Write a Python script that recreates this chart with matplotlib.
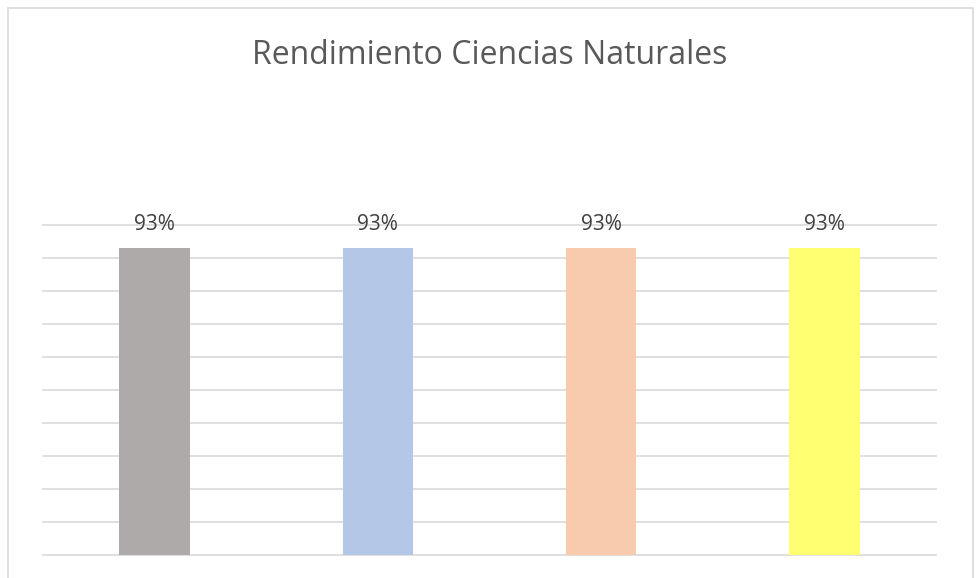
import matplotlib
matplotlib.use("Agg")
import matplotlib.pyplot as plt
from matplotlib.patches import Rectangle
import numpy as np

# Data
categories = ["Grupo 1", "Grupo 2", "Grupo 3", "Grupo 4"]
values = [0.93, 0.93, 0.93, 0.93]
colors = ["#AEAAAA", "#B4C7E7", "#F8CBAD", "#FFFF71"]
title = "Rendimiento Ciencias Naturales"

plt.rcParams["font.family"] = ["Open Sans", "DejaVu Sans"]

W, H = 980, 578
fig = plt.figure(figsize=(W / 100, H / 100), dpi=100)

# chart-area border (bottom edge falls outside the picture)
fig.patches.append(Rectangle((8 / W, -0.1), (973 - 8) / W, (578 - 8) / H + 0.1,
                             transform=fig.transFigure, fill=False,
                             edgecolor="#D9D9D9", linewidth=1.2))

ax = fig.add_axes([43 / W, (H - 555) / H, (936 - 43) / W, (555 - 225) / H])
x = np.arange(len(categories))
bars = ax.bar(x, values, width=0.315, color=colors, zorder=3)

ax.set_xlim(-0.5, len(categories) - 0.5)
ax.set_ylim(0, 1.0)
ax.set_yticks(np.arange(0, 1.01, 0.1))
ax.yaxis.grid(True, color="#D9D9D9", linewidth=1.2, zorder=0)
for gl in ax.get_ygridlines():
    gl.set_clip_on(False)
ax.tick_params(left=False, bottom=False, labelleft=False, labelbottom=False)
for s in ax.spines.values():
    s.set_visible(False)

for b, v in zip(bars, values):
    ax.annotate(f"{v:.0%}", (b.get_x() + b.get_width() / 2, v),
                xytext=(0, 17), textcoords="offset points",
                ha="center", va="center", fontsize=15, color="#404040")

fig.text(0.5, (H - 55) / H, title, ha="center", va="center",
         fontsize=23, color="#595959")

fig.savefig("out.png", dpi=100)
